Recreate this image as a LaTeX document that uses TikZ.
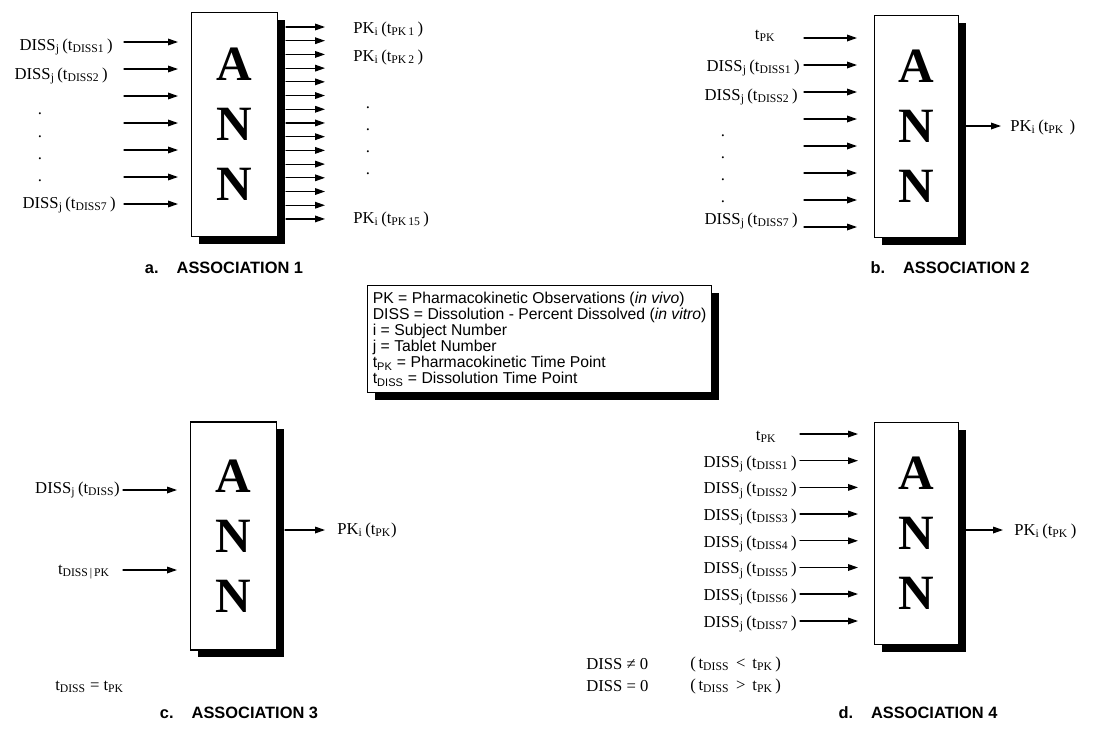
\documentclass[tikz,border=0pt]{standalone}
\usepackage{fontspec}
\setmainfont{Liberation Serif}
\newfontfamily\sansfam{Liberation Sans}
\usetikzlibrary{arrows.meta,shadows}

\newcommand{\dissj}[1]{DISS\textsubscript{j}\,(t\textsubscript{DISS#1}\,)}
\newcommand{\pkt}[1]{PK\textsubscript{i}\,(t\textsubscript{PK#1}\,)}

\tikzset{
  annbox/.style={draw,line width=0.9pt,fill=white,inner sep=0pt,align=center,
    font=\fontsize{37}{45}\selectfont\bfseries,
    drop shadow={shadow xshift=5.5pt,shadow yshift=-5.5pt,fill=black,opacity=1}},
  keybox/.style={draw,line width=0.8pt,fill=white,align=left,inner xsep=4pt,inner ysep=5pt,
    font=\sansfam\fontsize{11.8}{12}\selectfont,
    drop shadow={shadow xshift=5.5pt,shadow yshift=-5.5pt,fill=black,opacity=1}},
  lbl/.style={inner sep=0pt,font=\fontsize{12.5}{15}\selectfont},
  caption/.style={inner sep=0pt,font=\sansfam\bfseries\fontsize{12.3}{14}\selectfont},
  inarrow/.style={->,line width=0.9pt},
}

\begin{document}
\begin{tikzpicture}[x=0.75pt,y=-0.75pt,>={Triangle[length=7.5pt,width=5pt]},line cap=round]
\useasboundingbox (0,0) rectangle (1113,740);

% a. association 1
\node[annbox,minimum width=65pt,minimum height=168pt] (boxa) at (234.5,124.5) {A\\N\\N};
\foreach \y [count=\k] in {42,69,96,123,150,177,204} {
  \coordinate (ain\k) at (124,\y);
  \coordinate (aend\k) at (178,\y);
  \draw[inarrow] (ain\k) -- (aend\k);
}
\foreach \k in {0,...,14} {
  \coordinate (aout\k) at (286,27+13.71*\k);
  \coordinate (apk\k) at (325,27+13.71*\k);
  \draw[inarrow] (aout\k) -- (apk\k);
}
\node[lbl,anchor=east] (da1) at (113,47) {\dissj{1}};
\node[lbl,anchor=east] (da2) at (108,76) {\dissj{2}};
\foreach \y [count=\k] in {114,137,159,181}
  \node[lbl] (dota\k) at (40,\y) {.};
\node[lbl,anchor=east] (da7) at (116,205) {\dissj{7}};
\node[lbl,anchor=west] (pka1) at (353,29) {\pkt{\,1}};
\node[lbl,anchor=west] (pka2) at (353,57) {\pkt{\,2}};
\foreach \y [count=\k] in {108,130,152,174}
  \node[lbl] (dotpa\k) at (368,\y) {.};
\node[lbl,anchor=west] (pka15) at (353,219) {\pkt{\,15}};
\node[caption] (capa) at (224,268) {a.\hspace{1.1em}ASSOCIATION 1};

% b. association 2
\node[annbox,minimum width=62.5pt,minimum height=167pt] (boxb) at (916.5,126.5) {A\\N\\N};
\foreach \y [count=\k] in {38,65,92,119,146,173,200,227} {
  \coordinate (bin\k) at (804,\y);
  \coordinate (bend\k) at (857,\y);
  \draw[inarrow] (bin\k) -- (bend\k);
}
\node[lbl] (tpkb) at (765,36) {t\textsubscript{PK}};
\node[lbl,anchor=east] (db1) at (800,68) {\dissj{1}};
\node[lbl,anchor=east] (db2) at (798,97) {\dissj{2}};
\foreach \y [count=\k] in {136,158,180,202}
  \node[lbl] (dotb\k) at (723,\y) {.};
\node[lbl,anchor=east] (db7) at (798,221) {\dissj{7}};
\coordinate (bout) at (966,126);
\coordinate (bend) at (1001,126);
\draw[inarrow] (bout) -- (bend);
\node[lbl,anchor=west] (pkb) at (1010,127) {\pkt{\ }};
\node[caption] (capb) at (950,268) {b.\hspace{1.1em}ASSOCIATION 2};

% key
\node[keybox,anchor=north west] (key) at (367,285) {PK = Pharmacokinetic Observations (\textit{in vivo})\\
  DISS = Dissolution - Percent Dissolved (\textit{in vitro})\\
  i = Subject Number\\
  j = Tablet Number\\
  t\textsubscript{PK} = Pharmacokinetic Time Point\\
  t\textsubscript{DISS} = Dissolution Time Point};

% c. association 3
\node[annbox,minimum width=65pt,minimum height=171pt] (boxc) at (233.5,536) {A\\N\\N};
\coordinate (cin1) at (123,490);
\coordinate (cend1) at (177,490);
\coordinate (cin2) at (123,570);
\coordinate (cend2) at (177,570);
\draw[inarrow] (cin1) -- (cend1);
\draw[inarrow] (cin2) -- (cend2);
\node[lbl,anchor=east] (dc) at (120,490) {DISS\textsubscript{j}\,(t\textsubscript{DISS})};
\node[lbl,anchor=east] (tc) at (110,572) {t\textsubscript{DISS\,|\,PK}};
\coordinate (cout) at (285,530);
\coordinate (cend) at (325,530);
\draw[inarrow] (cout) -- (cend);
\node[lbl,anchor=west] (pkc) at (337,530) {PK\textsubscript{i}\,(t\textsubscript{PK})};
\node[lbl,anchor=west] (eqc) at (55,687) {t\textsubscript{DISS} = t\textsubscript{PK}};
\node[caption] (capc) at (239,713) {c.\hspace{1.1em}ASSOCIATION 3};

% d. association 4
\node[annbox,minimum width=62.5pt,minimum height=167pt] (boxd) at (916.5,533.5) {A\\N\\N};
\foreach \y [count=\k] in {434,460.7,487.4,514,540.8,567.5,594,621} {
  \coordinate (din\k) at (800,\y);
  \coordinate (dend\k) at (858,\y);
  \draw[inarrow] (din\k) -- (dend\k);
}
\node[lbl] (tpkd) at (766,437) {t\textsubscript{PK}};
\foreach \y [count=\k] in {460.7,487.4,514,540.8,567.5,594,621} {
  \node[lbl,anchor=east] (dd\k) at (797,\y+3) {DISS\textsubscript{j}\,(t\textsubscript{DISS\k}\,)};
}
\coordinate (dout) at (965,530);
\coordinate (dend) at (1003,530);
\draw[inarrow] (dout) -- (dend);
\node[lbl,anchor=west] (pkd) at (1014,531) {PK\textsubscript{i}\,(t\textsubscript{PK}\,)};
\node[lbl,anchor=west] (ned) at (586,664) {DISS ≠ 0};
\node[lbl,anchor=west] (eqd) at (586,686) {DISS = 0};
\node[lbl,anchor=west] (ltd) at (690,664) {(\,t\textsubscript{DISS} \,<\, t\textsubscript{PK}\,)};
\node[lbl,anchor=west] (gtd) at (690,686) {(\,t\textsubscript{DISS} \,>\, t\textsubscript{PK}\,)};
\node[caption] (capd) at (918,713) {d.\hspace{1.1em}ASSOCIATION 4};
\end{tikzpicture}
\end{document}
